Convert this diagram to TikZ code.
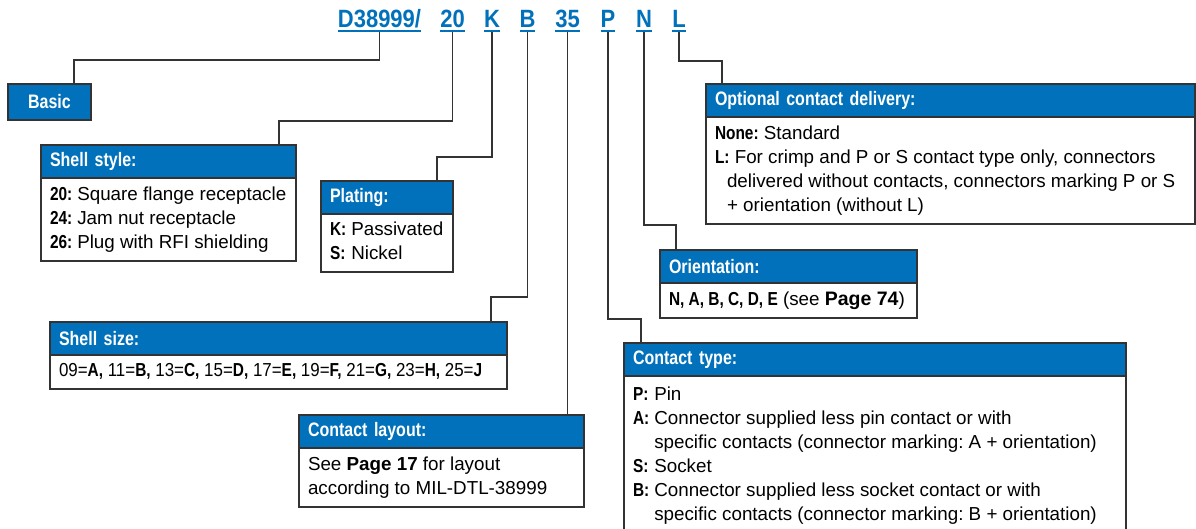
\documentclass[tikz,border=0pt]{standalone}
\usepackage{fontspec}
\setmainfont{Liberation Sans}
\newfontfamily\condf[FakeStretch=0.82]{Liberation Sans}
\newfontfamily\codef[FakeStretch=0.88]{Liberation Sans}
\newfontfamily\midf[FakeStretch=0.9]{Liberation Sans}
\definecolor{hblue}{HTML}{0071BA}
\definecolor{bord}{HTML}{333333}
\frenchspacing
\newcommand\cb[1]{{\condf\bfseries #1}}
\newcommand\codeul[1]{\setbox0\hbox{#1}\rlap{\rule[-4pt]{\wd0}{1.8pt}}\box0}
\newcommand\bodytab[2]{\makebox[#1][l]{\begin{tabular}[c]{@{}l@{\hspace{5pt}}l@{}}#2\end{tabular}}}
\newcommand\fl[1]{\multicolumn{2}{@{}l@{}}{#1}}
\begin{document}
\begin{tikzpicture}[x=1pt,y=-1pt,
  hdr/.style={draw=bord, line width=1.4pt, fill=hblue, text=white,
    font=\condf\bfseries\fontsize{19.5}{22}\selectfont, anchor=north west,
    inner xsep=9pt, inner ysep=0pt, outer sep=0pt, align=left, minimum height=33pt},
  bodybox/.style={draw=bord, line width=1.4pt, fill=white, text=black,
    font=\fontsize{18.8}{24}\selectfont, anchor=north west,
    inner xsep=9pt, inner ysep=0pt, outer sep=0pt},
  code/.style={text=hblue, font=\codef\bfseries\fontsize{25}{25}\selectfont,
    inner sep=0pt, anchor=base},
  link/.style={draw=bord, line width=1.3pt}]
\useasboundingbox (0,0) rectangle (1196,529);
\clip (0,0) rectangle (1196,529);

% code letters
\node[code] (cD) at (379.5,28) {\codeul{D38999/}};
\node[code] (c20) at (452.5,28) {\codeul{20}};
\node[code] (cK) at (492,28) {\codeul{K}};
\node[code] (cB) at (527.5,28) {\codeul{B}};
\node[code] (c35) at (567.5,28) {\codeul{35}};
\node[code] (cP) at (608,28) {\codeul{P}};
\node[code] (cN) at (644,28) {\codeul{N}};
\node[code] (cL) at (679,28) {\codeul{L}};

% boxes
\node[hdr, minimum width=83pt, minimum height=36pt, align=center] (basic) at (8,84) {Basic};

\node[hdr, text width=237pt] (shellh) at (41,145) {Shell style:};
\node[bodybox, minimum height=83pt] (shellb) at (shellh.south west)
  {\bodytab{237pt}{\cb{20:} & Square flange receptacle\\ \cb{24:} & Jam nut receptacle\\ \cb{26:} & Plug with RFI shielding}};

\node[hdr, text width=114pt] (plath) at (321,181) {Plating:};
\node[bodybox, minimum height=58pt] (platb) at (plath.south west)
  {\bodytab{114pt}{\cb{K:} & Passivated\\ \cb{S:} & Nickel}};

\node[hdr, text width=471pt] (opth) at (706,84) {Optional contact delivery:};
\node[bodybox, minimum height=107pt] (optb) at (opth.south west)
  {\bodytab{471pt}{\fl{\cb{None:} Standard}\\
   \fl{\cb{L:} For crimp and P or S contact type only, connectors}\\
   \fl{\hspace{12pt}delivered without contacts, connectors marking P or S}\\
   \fl{\hspace{12pt}+ orientation (without L)}}};

\node[hdr, text width=239pt] (orih) at (660,250) {Orientation:};
\node[bodybox, minimum height=35pt] (orib) at (orih.south west)
  {\bodytab{239pt}{\fl{\cb{N, A, B, C, D, E} (see \textbf{\fontsize{19.5}{24}\selectfont Page 74})}}};

\node[hdr, text width=439pt] (sizeh) at (50,322) {Shell size:};
\node[bodybox, minimum height=34pt] (sizeb) at (sizeh.south west)
  {\bodytab{439pt}{\fl{\midf 09=\cb{A,} 11=\cb{B,} 13=\cb{C,} 15=\cb{D,} 17=\cb{E,} 19=\cb{F,} 21=\cb{G,} 23=\cb{H,} 25=\cb{J}}}};

\node[hdr, text width=267pt] (layh) at (299,415) {Contact layout:};
\node[bodybox, minimum height=59pt] (layb) at (layh.south west)
  {\bodytab{267pt}{\fl{See \textbf{Page 17} for layout}\\ \fl{according to MIL-DTL-38999}}};

\node[hdr, text width=484pt] (typeh) at (624,343) {Contact type:};
\node[bodybox, minimum height=160pt] (typeb) at (typeh.south west)
  {\bodytab{484pt}{\cb{P:} & Pin\\
   \cb{A:} & Connector supplied less pin contact or with\\
   & specific contacts (connector marking: A + orientation)\\
   \cb{S:} & Socket\\
   \cb{B:} & Connector supplied less socket contact or with\\
   & specific contacts (connector marking: B + orientation)}};

% elbow coordinates
\coordinate (eD) at (74,60);
\coordinate (e20) at (279,121);
\coordinate (eK) at (437,157);
\coordinate (eB) at (491,297);
\coordinate (eP) at (641,319);
\coordinate (eN) at (676,225);
\coordinate (eL) at (722,61);

% connectors
\draw[link] (cD.south) |- (eD) -- (eD |- basic.north);
\draw[link] (c20.south) |- (e20) -- (e20 |- shellh.north);
\draw[link] (cK.south) |- (eK) -- (eK |- plath.north);
\draw[link] (cB.south) |- (eB) -- (eB |- sizeh.north);
\draw[link] (c35.south) -- (c35.south |- layh.north);
\draw[link] (cP.south) |- (eP) -- (eP |- typeh.north);
\draw[link] (cN.south) |- (eN) -- (eN |- orih.north);
\draw[link] (cL.south) |- (eL) -- (eL |- opth.north);
\end{tikzpicture}
\end{document}
